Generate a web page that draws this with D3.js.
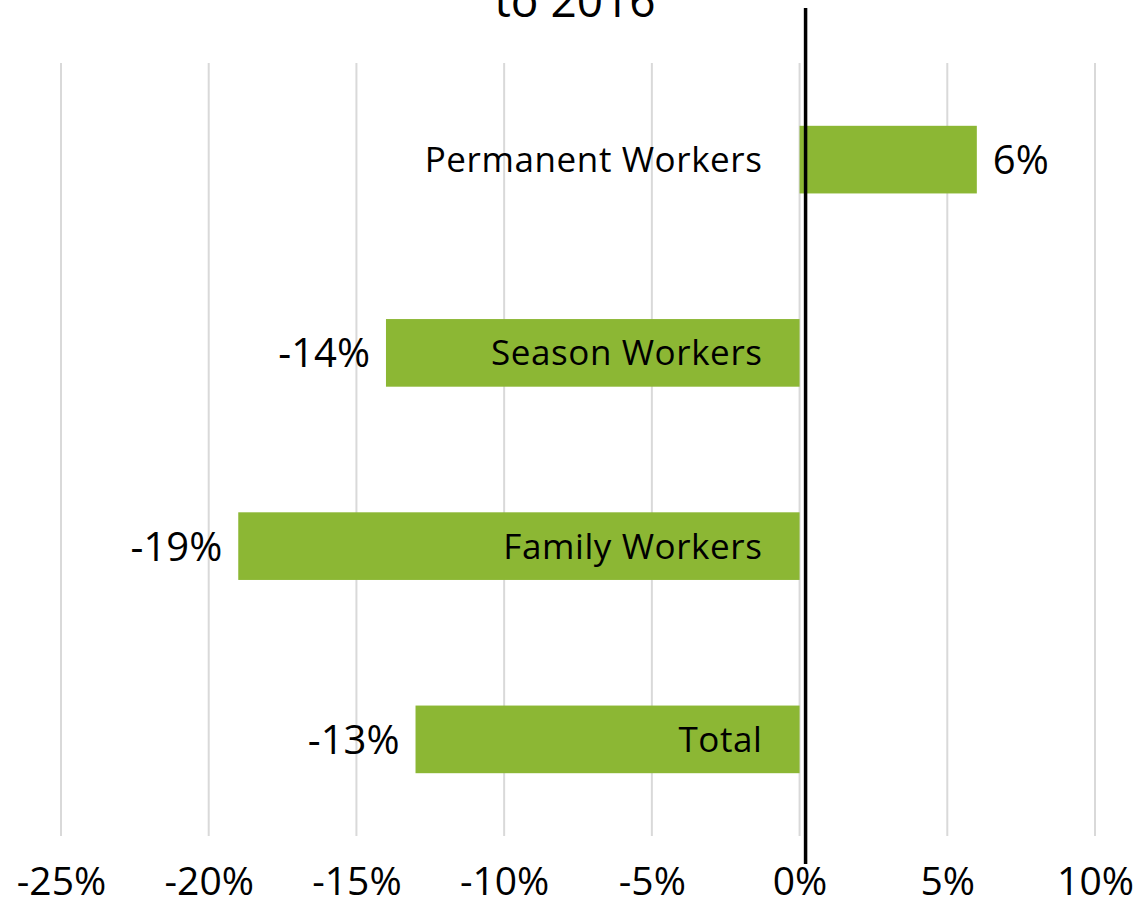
<!DOCTYPE html>
<html>
<head>
<meta charset="utf-8">
<script src="https://cdn.jsdelivr.net/npm/d3@7"></script>
<style>
  body { margin: 0; background: #fff; }
  svg { display: block; font-family: "Open Sans", Lato, sans-serif; }
</style>
</head>
<body>
<svg id="chart" width="1143" height="905"></svg>
<script>
var categories = ["Permanent Workers", "Season Workers", "Family Workers", "Total"];
var changes = [6, -14, -19, -13];
var tickValues = [-25, -20, -15, -10, -5, 0, 5, 10];
var titleLine = "to 2016";

var svg = d3.select("#chart"),
    width = +svg.attr("width"),
    height = +svg.attr("height");

var margin = { top: 63, right: 48, bottom: 69, left: 61 };

var x = d3.scaleLinear()
    .domain([-25, 10])
    .range([margin.left, width - margin.right]);

var y = d3.scaleBand()
    .domain(categories)
    .range([margin.top, height - margin.bottom])
    .paddingInner(0.65)
    .paddingOuter(0.325);

// title (only its last line shows in the frame)
svg.append("text")
    .attr("x", 575)
    .attr("y", 17)
    .attr("text-anchor", "middle")
    .attr("font-size", 46)
    .attr("fill", "#000")
    .text(titleLine);

// gridlines
svg.append("g")
  .selectAll("line")
  .data(tickValues)
  .enter().append("line")
    .attr("x1", function(d) { return x(d); })
    .attr("x2", function(d) { return x(d); })
    .attr("y1", margin.top)
    .attr("y2", height - margin.bottom)
    .attr("stroke", "#d9d9d9")
    .attr("stroke-width", 2);

// tick labels
var axis = d3.axisBottom(x)
    .tickValues(tickValues)
    .tickSize(0)
    .tickFormat(function(d) { return d + "%"; });

var gx = svg.append("g")
    .attr("transform", "translate(0," + (height - margin.bottom) + ")")
    .call(axis);
gx.select(".domain").remove();
gx.selectAll("text")
    .attr("y", 59)
    .attr("dy", 0)
    .attr("font-family", "'Open Sans', sans-serif")
    .attr("font-size", 39)
    .attr("fill", "#000");

// bars
svg.append("g")
  .selectAll("rect")
  .data(changes)
  .enter().append("rect")
    .attr("x", function(d) { return x(Math.min(0, d)); })
    .attr("width", function(d) { return Math.abs(x(d) - x(0)); })
    .attr("y", function(d, i) { return y(categories[i]); })
    .attr("height", y.bandwidth())
    .attr("fill", "#8cb734");

// category labels, right aligned next to zero
svg.append("g")
  .selectAll("text")
  .data(categories)
  .enter().append("text")
    .attr("x", x(0) - 37)
    .attr("y", function(d) { return y(d) + y.bandwidth() / 2; })
    .attr("dy", "0.36em")
    .attr("text-anchor", "end")
    .attr("font-size", 35)
    .attr("letter-spacing", 0.6)
    .attr("fill", "#000")
    .text(function(d) { return d; });

// value labels
svg.append("g")
  .selectAll("text")
  .data(changes)
  .enter().append("text")
    .attr("x", function(d) { return d < 0 ? x(d) - 16 : x(d) + 16; })
    .attr("y", function(d, i) { return y(categories[i]) + y.bandwidth() / 2; })
    .attr("dy", "0.36em")
    .attr("text-anchor", function(d) { return d < 0 ? "end" : "start"; })
    .attr("font-size", 40)
    .attr("fill", "#000")
    .text(function(d) { return d + "%"; });

// black vertical marker just right of zero
svg.append("line")
    .attr("x1", x(0) + 6)
    .attr("x2", x(0) + 6)
    .attr("y1", 8)
    .attr("y2", 864)
    .attr("stroke", "#000")
    .attr("stroke-width", 3.5);
</script>
</body>
</html>
